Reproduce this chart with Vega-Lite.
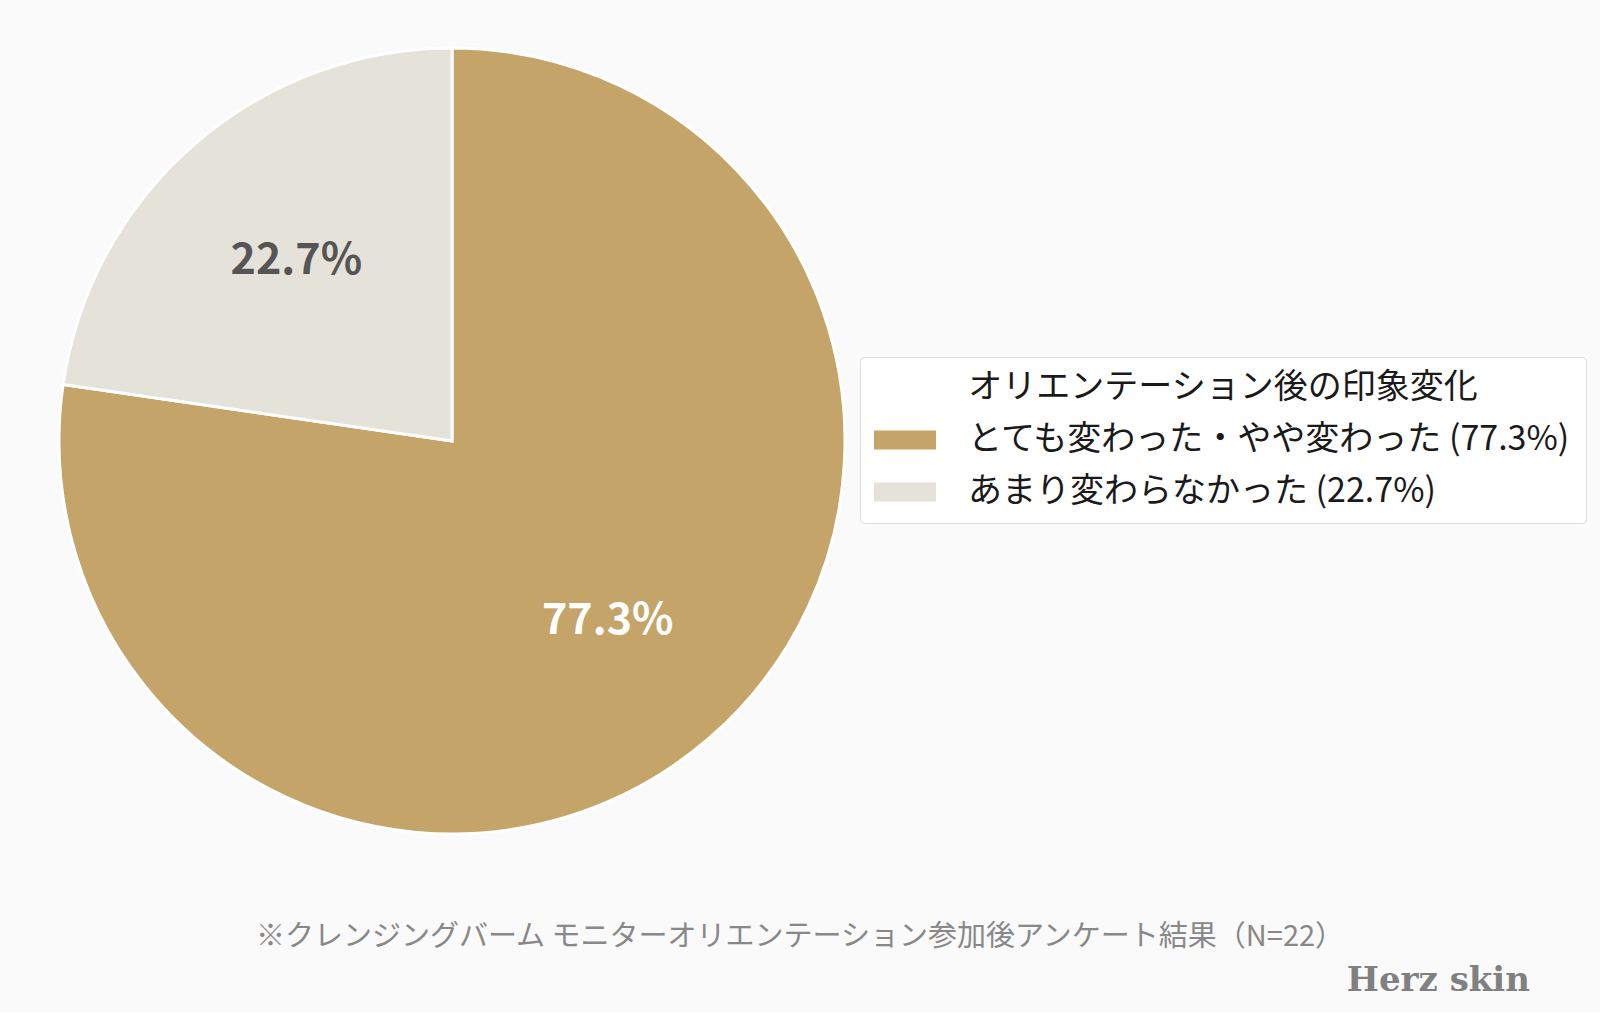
{
  "$schema": "https://vega.github.io/schema/vega-lite/v6.json",
  "background": "#FAFAFA",
  "padding": {"left": 0, "top": 0, "right": 17, "bottom": 3},
  "spacing": 11,
  "data": {
    "values": [
      {"category": "とても変わった・やや変わった (77.3%)", "share": 0.773},
      {"category": "あまり変わらなかった (22.7%)", "share": 0.227}
    ]
  },
  "vconcat": [
    {
      "width": 904,
      "height": 882,
      "title": {
        "text": "※クレンジングバーム モニターオリエンテーション参加後アンケート結果（N=22）",
        "orient": "bottom",
        "anchor": "middle",
        "frame": "group",
        "dx": 348,
        "offset": 41,
        "font": "Noto Sans CJK JP",
        "fontSize": 29,
        "fontWeight": "normal",
        "color": "#888888"
      },
      "layer": [
        {
          "mark": {"type": "arc", "outerRadius": 393, "stroke": "#FFFFFF", "strokeWidth": 3},
          "encoding": {
            "theta": {"field": "share", "type": "quantitative", "stack": true},
            "order": {"field": "share", "sort": "descending"},
            "color": {
              "field": "category",
              "type": "nominal",
              "scale": {
                "domain": ["とても変わった・やや変わった (77.3%)", "あまり変わらなかった (22.7%)"],
                "range": ["#C4A468", "#E5E2DA"]
              },
              "legend": {
                "title": "オリエンテーション後の印象変化",
                "orient": "none",
                "legendX": 860,
                "legendY": 357,
                "padding": 14,
                "fillColor": "#FFFFFF",
                "strokeColor": "#DDDDDD",
                "cornerRadius": 4,
                "titleFont": "Noto Sans CJK JP",
                "titleFontSize": 34,
                "titleFontWeight": "normal",
                "titleColor": "#1A1A1A",
                "titleAnchor": "middle",
                "titlePadding": 18,
                "titleLimit": 0,
                "labelFont": "Noto Sans CJK JP",
                "labelFontSize": 34,
                "labelColor": "#1A1A1A",
                "labelOffset": 32,
                "labelLimit": 0,
                "symbolType": "M-1,-0.31H1V0.31H-1Z",
                "symbolSize": 3844,
                "symbolStrokeWidth": 0,
                "symbolOpacity": 1,
                "clipHeight": 34,
                "rowPadding": 18
              }
            }
          }
        },
        {
          "mark": {"type": "text", "radius": 238, "font": "Noto Sans CJK JP", "fontSize": 43, "fontWeight": "bold"},
          "encoding": {
            "theta": {"field": "share", "type": "quantitative", "stack": true},
            "order": {"field": "share", "sort": "descending"},
            "detail": {"field": "category"},
            "text": {"field": "share", "format": ".1%"},
            "color": {"condition": {"test": "datum.share > 0.5", "value": "#FFFFFF"}, "value": "#555555"}
          }
        }
      ]
    },
    {
      "width": 1530,
      "height": 1,
      "mark": {"type": "text"},
      "title": {
        "text": "Herz skin",
        "anchor": "end",
        "frame": "group",
        "offset": 0,
        "font": "DejaVu Serif",
        "fontSize": 34,
        "fontWeight": "bold",
        "color": "#808080"
      }
    }
  ],
  "config": {"view": {"stroke": null}}
}
